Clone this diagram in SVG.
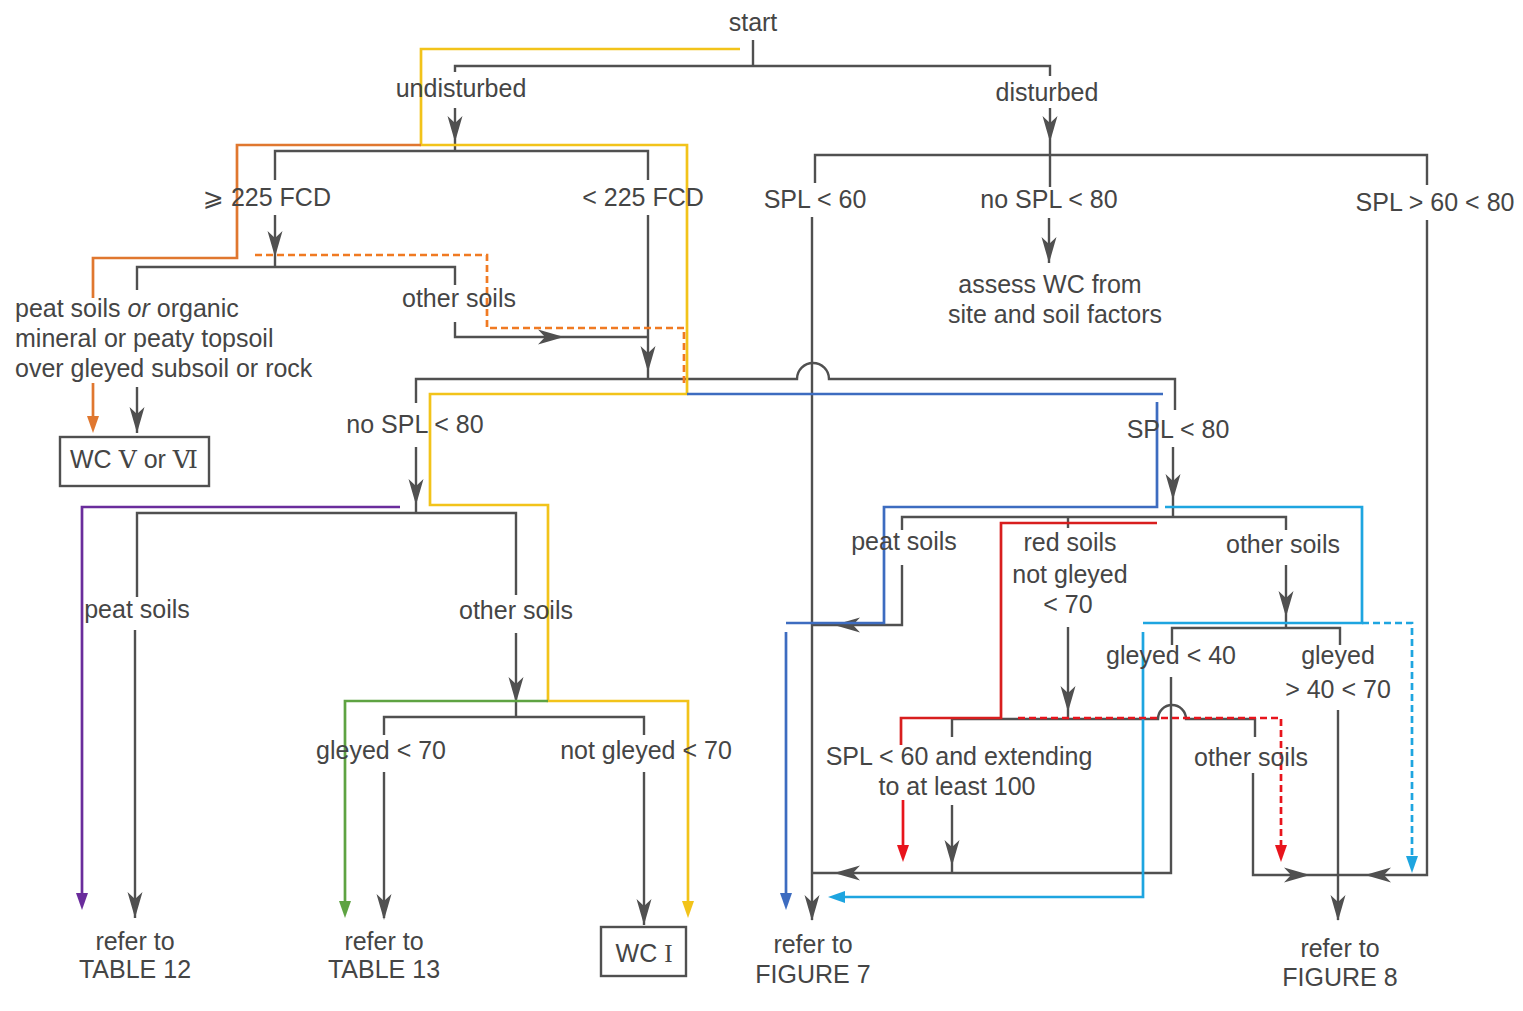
<svg xmlns="http://www.w3.org/2000/svg" xmlns:xlink="http://www.w3.org/1999/xlink" width="1523" height="1011" viewBox="0 0 1523 1011">
<style>
text{font-family:"Liberation Sans",Arial,"DejaVu Sans",sans-serif;font-size:25px;fill:#454545;text-anchor:middle}
.l{text-anchor:start}
.g path{fill:none;stroke:#505050;stroke-width:2.4}
.box{fill:none;stroke:#505050;stroke-width:2.4}
.c{fill:none;stroke-width:2.7}
.dash{stroke-dasharray:7 4}
.y{stroke:#f2c31a}.o{stroke:#e0772f}.od{stroke:#f07a22}.p{stroke:#6a2c9c}.gr{stroke:#5ea342}.b{stroke:#3d6cc0}.cy{stroke:#1ea5e0}.r{stroke:#d81e1e}.rd{stroke:#e8141c}
.ah{fill:#505050}
</style>
<defs>
<path id="ah" d="M0,0 L-26,-7.5 L-19,0 L-26,7.5 Z"/>
<marker id="my" markerUnits="userSpaceOnUse" markerWidth="20" markerHeight="14" viewBox="-9 -7 20 14" refX="0" refY="0" orient="auto" overflow="visible"><path d="M8,0 L-9,-6 L-9,6 Z" fill="#f2c31a"/></marker>
<marker id="mg" markerUnits="userSpaceOnUse" markerWidth="20" markerHeight="14" viewBox="-9 -7 20 14" refX="0" refY="0" orient="auto" overflow="visible"><path d="M8,0 L-9,-6 L-9,6 Z" fill="#5ea342"/></marker>
<marker id="mp" markerUnits="userSpaceOnUse" markerWidth="20" markerHeight="14" viewBox="-9 -7 20 14" refX="0" refY="0" orient="auto" overflow="visible"><path d="M8,0 L-9,-6 L-9,6 Z" fill="#6a2c9c"/></marker>
<marker id="mo" markerUnits="userSpaceOnUse" markerWidth="20" markerHeight="14" viewBox="-9 -7 20 14" refX="0" refY="0" orient="auto" overflow="visible"><path d="M8,0 L-9,-6 L-9,6 Z" fill="#e0772f"/></marker>
<marker id="mb" markerUnits="userSpaceOnUse" markerWidth="20" markerHeight="14" viewBox="-9 -7 20 14" refX="0" refY="0" orient="auto" overflow="visible"><path d="M8,0 L-9,-6 L-9,6 Z" fill="#3d6cc0"/></marker>
<marker id="mc" markerUnits="userSpaceOnUse" markerWidth="20" markerHeight="14" viewBox="-9 -7 20 14" refX="0" refY="0" orient="auto" overflow="visible"><path d="M8,0 L-9,-6 L-9,6 Z" fill="#1ea5e0"/></marker>
<marker id="mr" markerUnits="userSpaceOnUse" markerWidth="20" markerHeight="14" viewBox="-9 -7 20 14" refX="0" refY="0" orient="auto" overflow="visible"><path d="M8,0 L-9,-6 L-9,6 Z" fill="#e8141c"/></marker>
</defs>
<rect width="1523" height="1011" fill="#fff"/>

<g id="connectors">
<g class="g">
<path d="M753,40 V66"/>
<path d="M455,72 V66 H1050 V76"/>
<path d="M455,108 V151"/>
<path d="M275,180 V151 H648 V180"/>
<path d="M275,215 V267"/>
<path d="M137,290 V267 H455 V285"/>
<path d="M137,387 V433"/>
<path d="M455,322 V337 H648"/>
<path d="M648,215 V379"/>
<path d="M416,403 V379 H797 A16,16 0 0 1 829,379 H1175 V410"/>
<path d="M416,447 V513"/>
<path d="M137,597 V513 H516 V595"/>
<path d="M135,630 V918"/>
<path d="M516,633 V717"/>
<path d="M384,735 V717 H644 V735"/>
<path d="M384,772 V918"/>
<path d="M644,772 V925"/>
<path d="M1050,108 V187"/>
<path d="M815,183 V155 H1427 V185"/>
<path d="M1049,218 V263"/>
<path d="M812,217 V920"/>
<path d="M1427,220 V875 H1253 V773"/>
<path d="M1173,447 V517"/>
<path d="M902,530 V517 H1286 V530"/>
<path d="M1068,517 V528"/>
<path d="M902,565 V625 H812"/>
<path d="M1068,627 V719"/>
<path d="M952,737 V719 H1158 A14,14 0 0 1 1186,719 H1255 V737"/>
<path d="M952,805 V873"/>
<path d="M812,873 H1171 V677"/>
<path d="M1286,565 V628"/>
<path d="M1172,645 V628 H1340 V645"/>
<path d="M1338,710 V920"/>
</g>
<g class="ah">
<use xlink:href="#ah" transform="translate(455,142) rotate(90)"/>
<use xlink:href="#ah" transform="translate(1050,142) rotate(90)"/>
<use xlink:href="#ah" transform="translate(275,257) rotate(90)"/>
<use xlink:href="#ah" transform="translate(137,433) rotate(90)"/>
<use xlink:href="#ah" transform="translate(564,337)"/>
<use xlink:href="#ah" transform="translate(648,372) rotate(90)"/>
<use xlink:href="#ah" transform="translate(416,505) rotate(90)"/>
<use xlink:href="#ah" transform="translate(135,918) rotate(90)"/>
<use xlink:href="#ah" transform="translate(516,703) rotate(90)"/>
<use xlink:href="#ah" transform="translate(384,920) rotate(90)"/>
<use xlink:href="#ah" transform="translate(644,925) rotate(90)"/>
<use xlink:href="#ah" transform="translate(1049,263) rotate(90)"/>
<use xlink:href="#ah" transform="translate(812,921) rotate(90)"/>
<use xlink:href="#ah" transform="translate(1173,500) rotate(90)"/>
<use xlink:href="#ah" transform="translate(834,625) rotate(180)"/>
<use xlink:href="#ah" transform="translate(1286,617) rotate(90)"/>
<use xlink:href="#ah" transform="translate(1068,712) rotate(90)"/>
<use xlink:href="#ah" transform="translate(952,866) rotate(90)"/>
<use xlink:href="#ah" transform="translate(834,873) rotate(180)"/>
<use xlink:href="#ah" transform="translate(1310,875)"/>
<use xlink:href="#ah" transform="translate(1365,875) rotate(180)"/>
<use xlink:href="#ah" transform="translate(1338,921) rotate(90)"/>
</g>
<path class="c y" d="M740,49 H421 V145 H687 V394 H430 V505 H548 V701 H688 V910" marker-end="url(#my)"/>
<path class="c gr" d="M548,701 H345 V910" marker-end="url(#mg)"/>
<path class="c p" d="M400,507 H82 V902" marker-end="url(#mp)"/>
<path class="c o" d="M421,145 H237 V258 H93 V298"/>
<path class="c o" d="M93,383 V425" marker-end="url(#mo)"/>
<path class="c od dash" d="M255,255 H487 V328 H684 V386"/>
<path class="c b" d="M687,394 H1163"/>
<path class="c b" d="M1157,402 V507 H884 V623 H786"/>
<path class="c b" d="M786,632 V902" marker-end="url(#mb)"/>
<path class="c cy" d="M1165,507 H1362 V623 H1143"/>
<path class="c cy" d="M1143,632 V897 H836" marker-end="url(#mc)"/>
<path class="c cy dash" d="M1362,623 H1412 V865" marker-end="url(#mc)"/>
<path class="c r" d="M1157,523 H1001 V718 H901 V745"/>
<path class="c rd" d="M903,800 V854" marker-end="url(#mr)"/>
<path class="c rd dash" d="M1018,718 H1281 V854" marker-end="url(#mr)"/>
</g>

<g id="n-start"><text x="753" y="31">start</text></g>
<g id="n-undisturbed"><text x="461" y="97">undisturbed</text></g>
<g id="n-disturbed"><text x="1047" y="101">disturbed</text></g>
<g id="n-ge225"><text x="267" y="206">⩾ 225 FCD</text></g>
<g id="n-lt225"><text x="643" y="206">&lt; 225 FCD</text></g>
<g id="n-spl60"><text x="815" y="208">SPL &lt; 60</text></g>
<g id="n-nospl80a"><text x="1049" y="208">no SPL &lt; 80</text></g>
<g id="n-spl6080"><text x="1435" y="211">SPL &gt; 60 &lt; 80</text></g>
<g id="n-peatorganic"><text class="l" x="15" y="317">peat soils <tspan font-style="italic">or</tspan> organic</text><text class="l" x="15" y="347">mineral or peaty topsoil</text><text class="l" x="15" y="377">over gleyed subsoil or rock</text></g>
<g id="n-othersoils1"><text x="459" y="307">other soils</text></g>
<g id="n-assess"><text x="1050" y="293">assess WC from</text><text x="1055" y="323">site and soil factors</text></g>
<g id="n-wc56"><rect class="box" x="60" y="437" width="149" height="49"/><text x="134" y="468">WC <tspan font-family="'DejaVu Serif',serif">Ⅴ</tspan> or <tspan font-family="'DejaVu Serif',serif">Ⅵ</tspan></text></g>
<g id="n-nospl80b"><text x="415" y="433">no SPL &lt; 80</text></g>
<g id="n-spl80"><text x="1178" y="438">SPL &lt; 80</text></g>
<g id="n-peat2"><text x="137" y="618">peat soils</text></g>
<g id="n-other2"><text x="516" y="619">other soils</text></g>
<g id="n-gleyed70"><text x="381" y="759">gleyed &lt; 70</text></g>
<g id="n-notgleyed70"><text x="646" y="759">not gleyed &lt; 70</text></g>
<g id="n-table12"><text x="135" y="950">refer to</text><text x="135" y="978">TABLE 12</text></g>
<g id="n-table13"><text x="384" y="950">refer to</text><text x="384" y="978">TABLE 13</text></g>
<g id="n-wc1"><rect class="box" x="601" y="927" width="85" height="49"/><text x="644" y="962">WC <tspan font-family="'Liberation Serif',serif">I</tspan></text></g>
<g id="n-fig7"><text x="813" y="953">refer to</text><text x="813" y="983">FIGURE 7</text></g>
<g id="n-peat3"><text x="904" y="550">peat soils</text></g>
<g id="n-red"><text x="1070" y="551">red soils</text><text x="1070" y="583">not gleyed</text><text x="1068" y="613">&lt; 70</text></g>
<g id="n-other3"><text x="1283" y="553">other soils</text></g>
<g id="n-gleyed40"><text x="1171" y="664">gleyed &lt; 40</text></g>
<g id="n-gleyed4070"><text x="1338" y="664">gleyed</text><text x="1338" y="698">&gt; 40 &lt; 70</text></g>
<g id="n-spl60ext"><text x="959" y="765">SPL &lt; 60 and extending</text><text x="957" y="795">to at least 100</text></g>
<g id="n-other4"><text x="1251" y="766">other soils</text></g>
<g id="n-fig8"><text x="1340" y="957">refer to</text><text x="1340" y="986">FIGURE 8</text></g>
</svg>
